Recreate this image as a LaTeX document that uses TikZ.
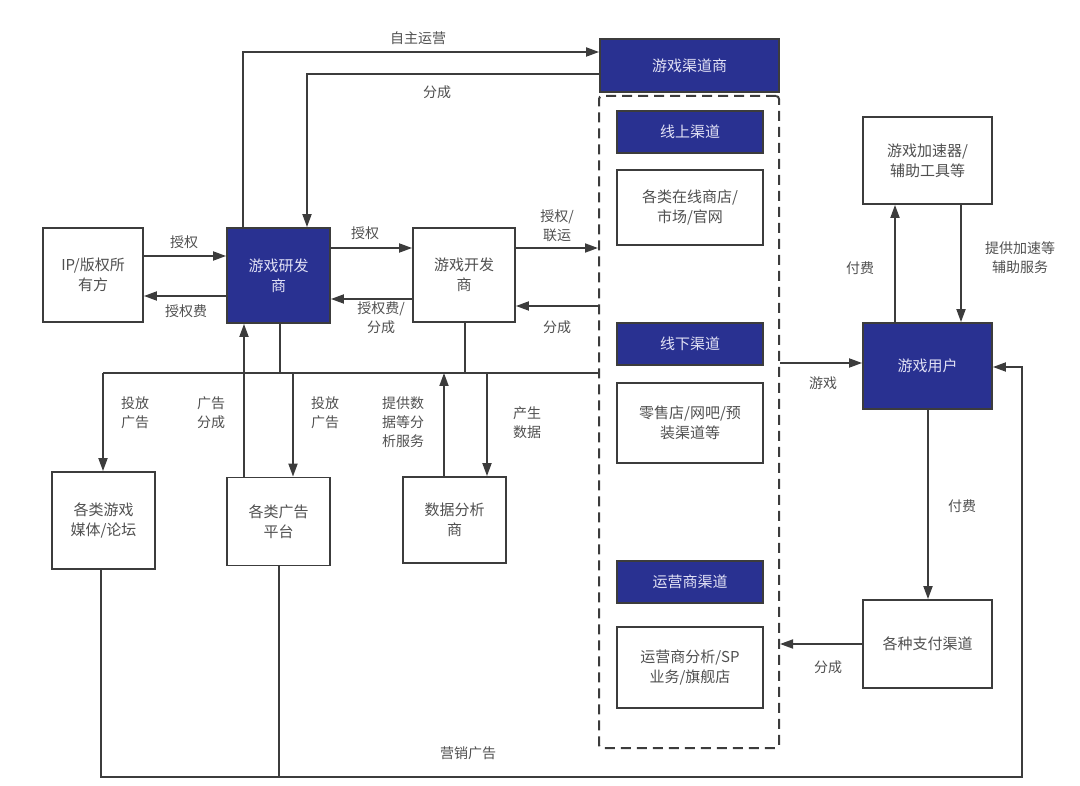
\documentclass[tikz,border=0pt]{standalone}
\usepackage{fontspec}
\setmainfont{Noto Sans CJK SC}
\usetikzlibrary{arrows.meta}
\definecolor{navy}{RGB}{41,49,145}
\definecolor{linec}{RGB}{60,60,60}
\definecolor{txtc}{RGB}{80,80,80}
\definecolor{btxt}{RGB}{225,225,245}
\tikzset{
  wbox/.style={draw=linec, line width=1.8pt, fill=white, align=center, text=txtc,
    inner sep=0pt, font=\fontsize{15}{20}\selectfont},
  bbox/.style={wbox, fill=navy, text=btxt},
  conn/.style={draw=linec, line width=1.8pt},
  arr/.style={conn, -{Triangle[length=13pt,width=9pt]}},
  lbl/.style={text=txtc, align=center, inner sep=0pt, font=\fontsize{14}{19}\selectfont},
}
\begin{document}
\begin{tikzpicture}[x=1pt,y=-1pt]
\useasboundingbox (0,0) rectangle (1080,786);
% nodes
\node[wbox, minimum width=100pt, minimum height=94pt] (ip) at (93,275) {IP/版权所\\有方};
\node[bbox, minimum width=103pt, minimum height=95pt] (dev) at (278.5,275.5) {游戏研发\\商};
\node[wbox, minimum width=102pt, minimum height=94pt] (pub) at (464,275) {游戏开发\\商};
\node[bbox, minimum width=179pt, minimum height=53pt] (chan) at (689.5,65.5) {游戏渠道商};
\node[draw=linec, line width=2pt, dash pattern=on 10pt off 6pt, rounded corners=3pt,
  minimum width=180pt, minimum height=652pt, inner sep=0pt] (dash) at (689,422) {};
\node[bbox, minimum width=146pt, minimum height=42pt] (on) at (690,132) {线上渠道};
\node[wbox, minimum width=146pt, minimum height=75pt] (onl) at (690,207.5) {各类在线商店/\\市场/官网};
\node[bbox, minimum width=146pt, minimum height=42pt] (off) at (690,344) {线下渠道};
\node[wbox, minimum width=146pt, minimum height=80pt] (offl) at (690,423) {零售店/网吧/预\\装渠道等};
\node[bbox, minimum width=146pt, minimum height=42pt] (op) at (690,582) {运营商渠道};
\node[wbox, minimum width=146pt, minimum height=81pt] (opl) at (690,667.5) {运营商分析/SP\\业务/旗舰店};
\node[wbox, minimum width=129pt, minimum height=87pt] (acc) at (927.5,160.5) {游戏加速器/\\辅助工具等};
\node[bbox, minimum width=129pt, minimum height=86pt] (user) at (927.5,366) {游戏用户};
\node[wbox, minimum width=129pt, minimum height=88pt] (pay) at (927.5,644) {各种支付渠道};
\node[wbox, minimum width=103pt, minimum height=97pt] (media) at (103.5,520.5) {各类游戏\\媒体/论坛};
\node[wbox, minimum width=103pt, minimum height=88pt] (adp) at (278.5,521.5) {各类广告\\平台};
\node[wbox, minimum width=103pt, minimum height=86pt] (data) at (454.5,520) {数据分析\\商};
% connectors
\draw[arr] (ip.east |- 0,256) -- (dev.west |- 0,256);
\draw[arr] (dev.west |- 0,296) -- (ip.east |- 0,296);
\draw[arr] (dev.east |- 0,248) -- (pub.west |- 0,248);
\draw[arr] (pub.west |- 0,299) -- (dev.east |- 0,299);
\draw[arr] (pub.east |- 0,248) -- (dash.west |- 0,248);
\draw[arr] (dash.west |- 0,306) -- (pub.east |- 0,306);
\draw[arr] (243,0 |- dev.north) -- (243,52) -- (chan.west |- 0,52);
\draw[arr] (chan.west |- 0,74) -- (307,74) -- (307,0 |- dev.north);
\coordinate (busL) at (103,373);
\coordinate (busR) at (dash.west |- 0,373);
\draw[conn] (busR) -- (busL);
\draw[arr] (busL) -- (103,0 |- media.north);
\draw[conn] (280,0 |- dev.south) -- (280,373);
\draw[arr] (244,0 |- adp.north) -- (244,0 |- dev.south);
\draw[arr] (293,373) -- (293,0 |- adp.north);
\draw[conn] (465,0 |- pub.south) -- (465,373);
\draw[arr] (444,0 |- data.north) -- (444,373);
\draw[arr] (487,373) -- (487,0 |- data.north);
\draw[arr] (dash.east |- 0,363) -- (user.west |- 0,363);
\draw[arr] (895,0 |- user.north) -- (895,0 |- acc.south);
\draw[arr] (961,0 |- acc.south) -- (961,0 |- user.north);
\draw[arr] (928,0 |- user.south) -- (928,0 |- pay.north);
\draw[arr] (pay.west) -- (dash.east |- pay.west);
\draw[arr] (101,0 |- media.south) -- (101,777) -- (1022,777) -- (1022,367) -- (user.east |- 0,367);
\draw[conn] (279,0 |- adp.south) -- (279,777);
% labels
\node[lbl] at (418,38) {自主运营};
\node[lbl] at (437,92) {分成};
\node[lbl] at (184,242) {授权};
\node[lbl] at (186,311) {授权费};
\node[lbl] at (365,233) {授权};
\node[lbl] at (381,318) {授权费/\\分成};
\node[lbl] at (557,226) {授权/\\联运};
\node[lbl] at (557,327) {分成};
\node[lbl] at (135,413) {投放\\广告};
\node[lbl] at (211,413) {广告\\分成};
\node[lbl] at (325,413) {投放\\广告};
\node[lbl] at (403,422) {提供数\\据等分\\析服务};
\node[lbl] at (527,423) {产生\\数据};
\node[lbl] at (860,268) {付费};
\node[lbl] at (1020,258) {提供加速等\\辅助服务};
\node[lbl] at (823,383) {游戏};
\node[lbl] at (962,506) {付费};
\node[lbl] at (828,667) {分成};
\node[lbl] at (468,753) {营销广告};
\end{tikzpicture}
\end{document}
